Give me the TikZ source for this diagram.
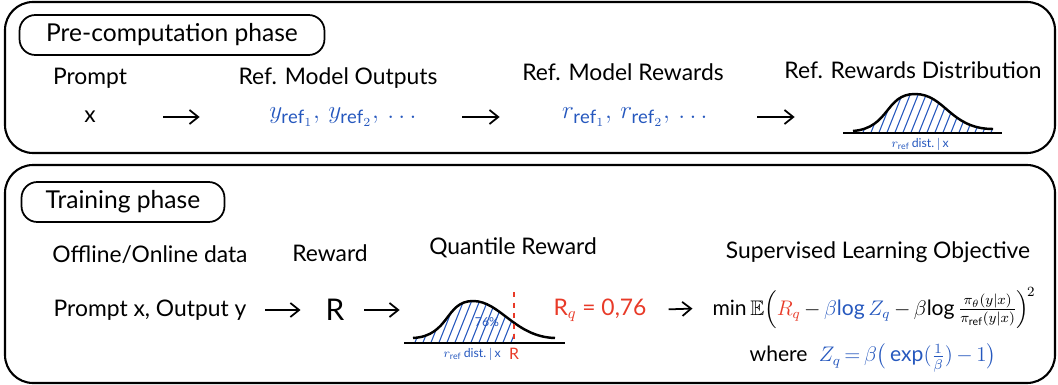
\documentclass[tikz,border=0pt]{standalone}
\usepackage{amsmath,amssymb}
\usepackage{fontspec}
\setmainfont{Lato}
\usetikzlibrary{positioning,arrows.meta}
\definecolor{inkblue}{RGB}{38,88,190}
\definecolor{inkred}{RGB}{232,58,40}

\begin{document}
\begin{tikzpicture}[x=0.02cm,y=-0.02cm,>={Straight Barb[length=5pt,width=8pt]},
    phase/.style={draw,line width=1.2pt,rounded corners=16pt},
    tag/.style={draw,line width=1pt,rounded corners=9pt,font=\fontsize{14}{16}\selectfont,minimum height=0.8cm,inner xsep=9pt},
    txt/.style={font=\fontsize{13}{15}\selectfont,inner sep=1pt},
    math/.style={font=\fontsize{12}{14}\selectfont,inner sep=1pt},
    flow/.style={->,line width=1pt},
    curve/.style={line width=1.4pt},
    hatch/.style={inkblue,line width=0.6pt},
    small/.style={font=\scriptsize,text=inkblue,inner sep=1pt}]
    \useasboundingbox (0,0) rectangle (1058,385);
    % phase frames
    \draw[phase] (5,2) rectangle (1055,153);
    \draw[phase] (5,165) rectangle (1055,383);
    \node[tag,minimum width=6.1cm] (pre) at (172,35) {Pre-computation phase};
    \node[tag,minimum width=4.06cm] (train) at (123,202) {Training phase};

    % pre-computation row
    \node[txt] (prompt) at (90,78) {Prompt};
    \node[txt,minimum width=0.3cm] (x) at (90,117) {x};
    \node[txt] (outlab) at (338,78) {Ref. Model Outputs};
    \node[txt,text=inkblue,minimum width=3.6cm] (youts) at (345,117) {\fontsize{15}{17}\selectfont$y_{\mathrm{ref}_1},\, y_{\mathrm{ref}_2},\,\dots$};
    \node[txt] (rewlab) at (623,72) {Ref. Model Rewards};
    \node[txt,text=inkblue,minimum width=3.56cm] (routs) at (637,117) {\fontsize{15}{17}\selectfont$r_{\mathrm{ref}_1},\, r_{\mathrm{ref}_2},\,\dots$};
    \node[txt] (distlab) at (913,70) {Ref. Rewards Distribution};
    \node[minimum width=3cm,minimum height=0.8cm] (tdist) at (923,117) {};
    \begin{scope}
      \clip (853,133) -- (853,131) .. controls (890,128) and (885,94) .. (915,94)
        .. controls (945,94) and (950,129) .. (993,129) -- (993,133) -- cycle;
      \foreach \k in {820,828,...,1000} \draw[hatch] (\k,140) -- ++(20,-50);
    \end{scope}
    \draw[curve] (853,131) .. controls (890,128) and (885,94) .. (915,94)
      .. controls (945,94) and (950,129) .. (993,129);
    \draw[line width=1pt] (843,133) -- (1002,133);
    \node[small] (tref) at (920,144) {$r_{\mathrm{ref}}$\,dist.\,$|$\,x};

    \draw[flow,shorten <=1.31cm,shorten >=1.1cm] (x.east) -- (youts.west);
    \draw[flow,shorten <=0.54cm,shorten >=0.96cm] (youts.east) -- (routs.west);
    \draw[flow,shorten <=0.62cm,shorten >=1.06cm] (routs.east) -- (tdist.west);

    % training row
    \node[txt] (datalab) at (150,255) {Offline/Online data};
    \node[txt] (rlab) at (330,253) {Reward};
    \node[txt] (qlab) at (513,248) {Quantile Reward};
    \node[txt] (objlab) at (878,252) {Supervised Learning Objective};
    \node[txt,minimum width=4cm] (data) at (150,310) {Prompt x, Output y};
    \node[txt,font=\fontsize{17}{19}\selectfont,minimum width=0.4cm] (R) at (335,310) {R};
    \node[minimum width=3cm,minimum height=0.8cm] (qdist) at (484,310) {};
    \begin{scope}
      \clip (413,343) -- (413,338) .. controls (450,336) and (445,301) .. (473,301)
        .. controls (500,301) and (515,337) .. (555,338) -- (555,343) -- cycle;
      \clip (400,280) rectangle (514,343);
      \foreach \k in {380,388,...,520} \draw[hatch] (\k,350) -- ++(20,-50);
    \end{scope}
    \draw[curve] (413,338) .. controls (450,336) and (445,301) .. (473,301)
      .. controls (500,301) and (515,337) .. (555,338);
    \draw[line width=1pt] (404,343) -- (565,343);
    \draw[inkred,line width=1pt,dashed] (514,292) -- (514,343);
    \node[small] (pct) at (487,322) {76\%};
    \node[small] (qref) at (472,354) {$r_{\mathrm{ref}}$\,dist.\,$|$\,x};
    \node[small,text=inkred,font=\small] (qR) at (514,354) {R};
    \node[txt,text=inkred,minimum width=1.6cm] (Rq) at (600,310) {R$_q$ = 0,76};
    \node[math,minimum width=6.24cm] (obj) at (874,308) {$\min\mathbb{E}\Big(\textcolor{inkred}{R_q}\,{-}\,\textcolor{inkblue}{\beta\!\log Z_q}\,{-}\,\beta\!\log\frac{\pi_\theta(y|x)}{\pi_{\mathrm{ref}}(y|x)}\Big)^{\!2}$};
    \node[math] (where) at (873,358) {where\; \textcolor{inkblue}{$Z_q\,{=}\,\beta\big(\exp(\tfrac{1}{\beta})\,{-}\,1\big)$}};

    \draw[flow,shorten <=0.3cm,shorten >=0.46cm] (data.east) -- (R.west);
    \draw[flow,shorten <=0.36cm,shorten >=0.18cm] (R.east) -- (qdist.west);
    \draw[flow,shorten <=0.4cm,shorten >=0.36cm] (Rq.east) -- (obj.west);
  \end{tikzpicture}
\end{document}
